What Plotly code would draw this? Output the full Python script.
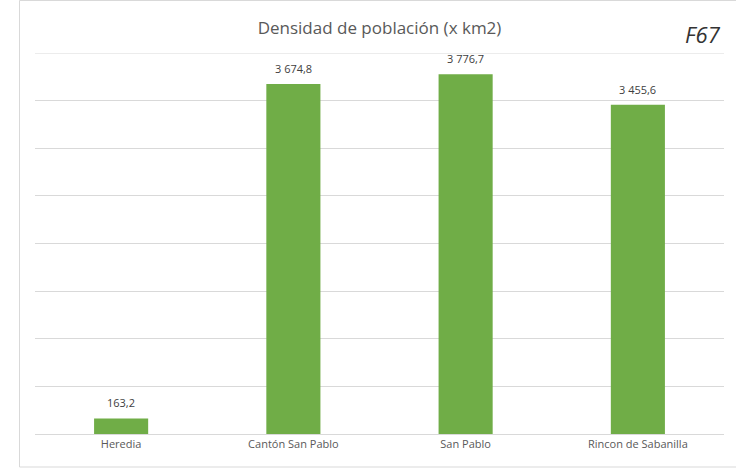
import plotly.graph_objects as go

categories = ["Heredia", "Cantón San Pablo", "San Pablo", "Rincon de Sabanilla"]
densidad = [163.2, 3674.8, 3776.7, 3455.6]
y_max = 4000

GREEN = "#70AD47"
GREY_TEXT = "#595959"
GRID = "#D9D9D9"
FONT = "Open Sans, Noto Sans, sans-serif"

fig = go.Figure(
    go.Bar(
        x=categories,
        y=densidad,
        marker=dict(color=GREEN, line=dict(width=0)),
        hoverinfo="skip",
    )
)

fig.update_layout(
    width=736,
    height=469,
    margin=dict(l=35, r=12, t=53, b=35),
    paper_bgcolor="white",
    plot_bgcolor="white",
    bargap=0.686,
    showlegend=False,
    font=dict(family=FONT, color=GREY_TEXT),
    title=dict(
        text="Densidad de población (x km2)",
        x=0.5,
        xref="paper",
        xanchor="center",
        y=1 - 28 / 469,
        yanchor="middle",
        font=dict(size=17, color=GREY_TEXT, family=FONT),
    ),
    xaxis=dict(
        showgrid=False,
        showline=True,
        linecolor=GRID,
        linewidth=1,
        ticks="",
        tickfont=dict(size=11, color=GREY_TEXT, family=FONT),
        fixedrange=True,
    ),
    yaxis=dict(
        range=[0, y_max],
        dtick=500,
        showgrid=True,
        gridcolor=GRID,
        gridwidth=1,
        showticklabels=False,
        zeroline=False,
        showline=False,
        ticks="",
        fixedrange=True,
    ),
    shapes=[
        # outer chart frame
        dict(
            type="rect",
            xref="paper",
            yref="paper",
            x0=(19.5 - 35) / 689,
            x1=(740 - 35) / 689,
            y0=(434 - 467) / 381,
            y1=(434 - 0.5) / 381,
            line=dict(color=GRID, width=1),
            fillcolor="rgba(0,0,0,0)",
            layer="below",
        ),
        # top gridline at the axis maximum
        dict(
            type="line",
            xref="paper",
            yref="y",
            x0=0,
            x1=1,
            y0=y_max,
            y1=y_max,
            line=dict(color=GRID, width=1),
            layer="below",
        ),
    ],
)

# value labels above each bar
for cat, val in zip(categories, densidad):
    fig.add_annotation(
        x=cat,
        y=val,
        text=f"{val:,.1f}".replace(",", " ").replace(".", ","),
        showarrow=False,
        yanchor="bottom",
        yshift=6,
        font=dict(size=11, color="#404040", family=FONT),
    )

# sheet tag in the top-right corner
fig.add_annotation(
    text="<i>F67</i>",
    xref="paper",
    yref="paper",
    x=(723 - 35) / 689,
    y=(434 - 34) / 381,
    xanchor="right",
    yanchor="middle",
    showarrow=False,
    font=dict(size=22, color="#333333", family=FONT),
)

fig.write_html("out.html")
